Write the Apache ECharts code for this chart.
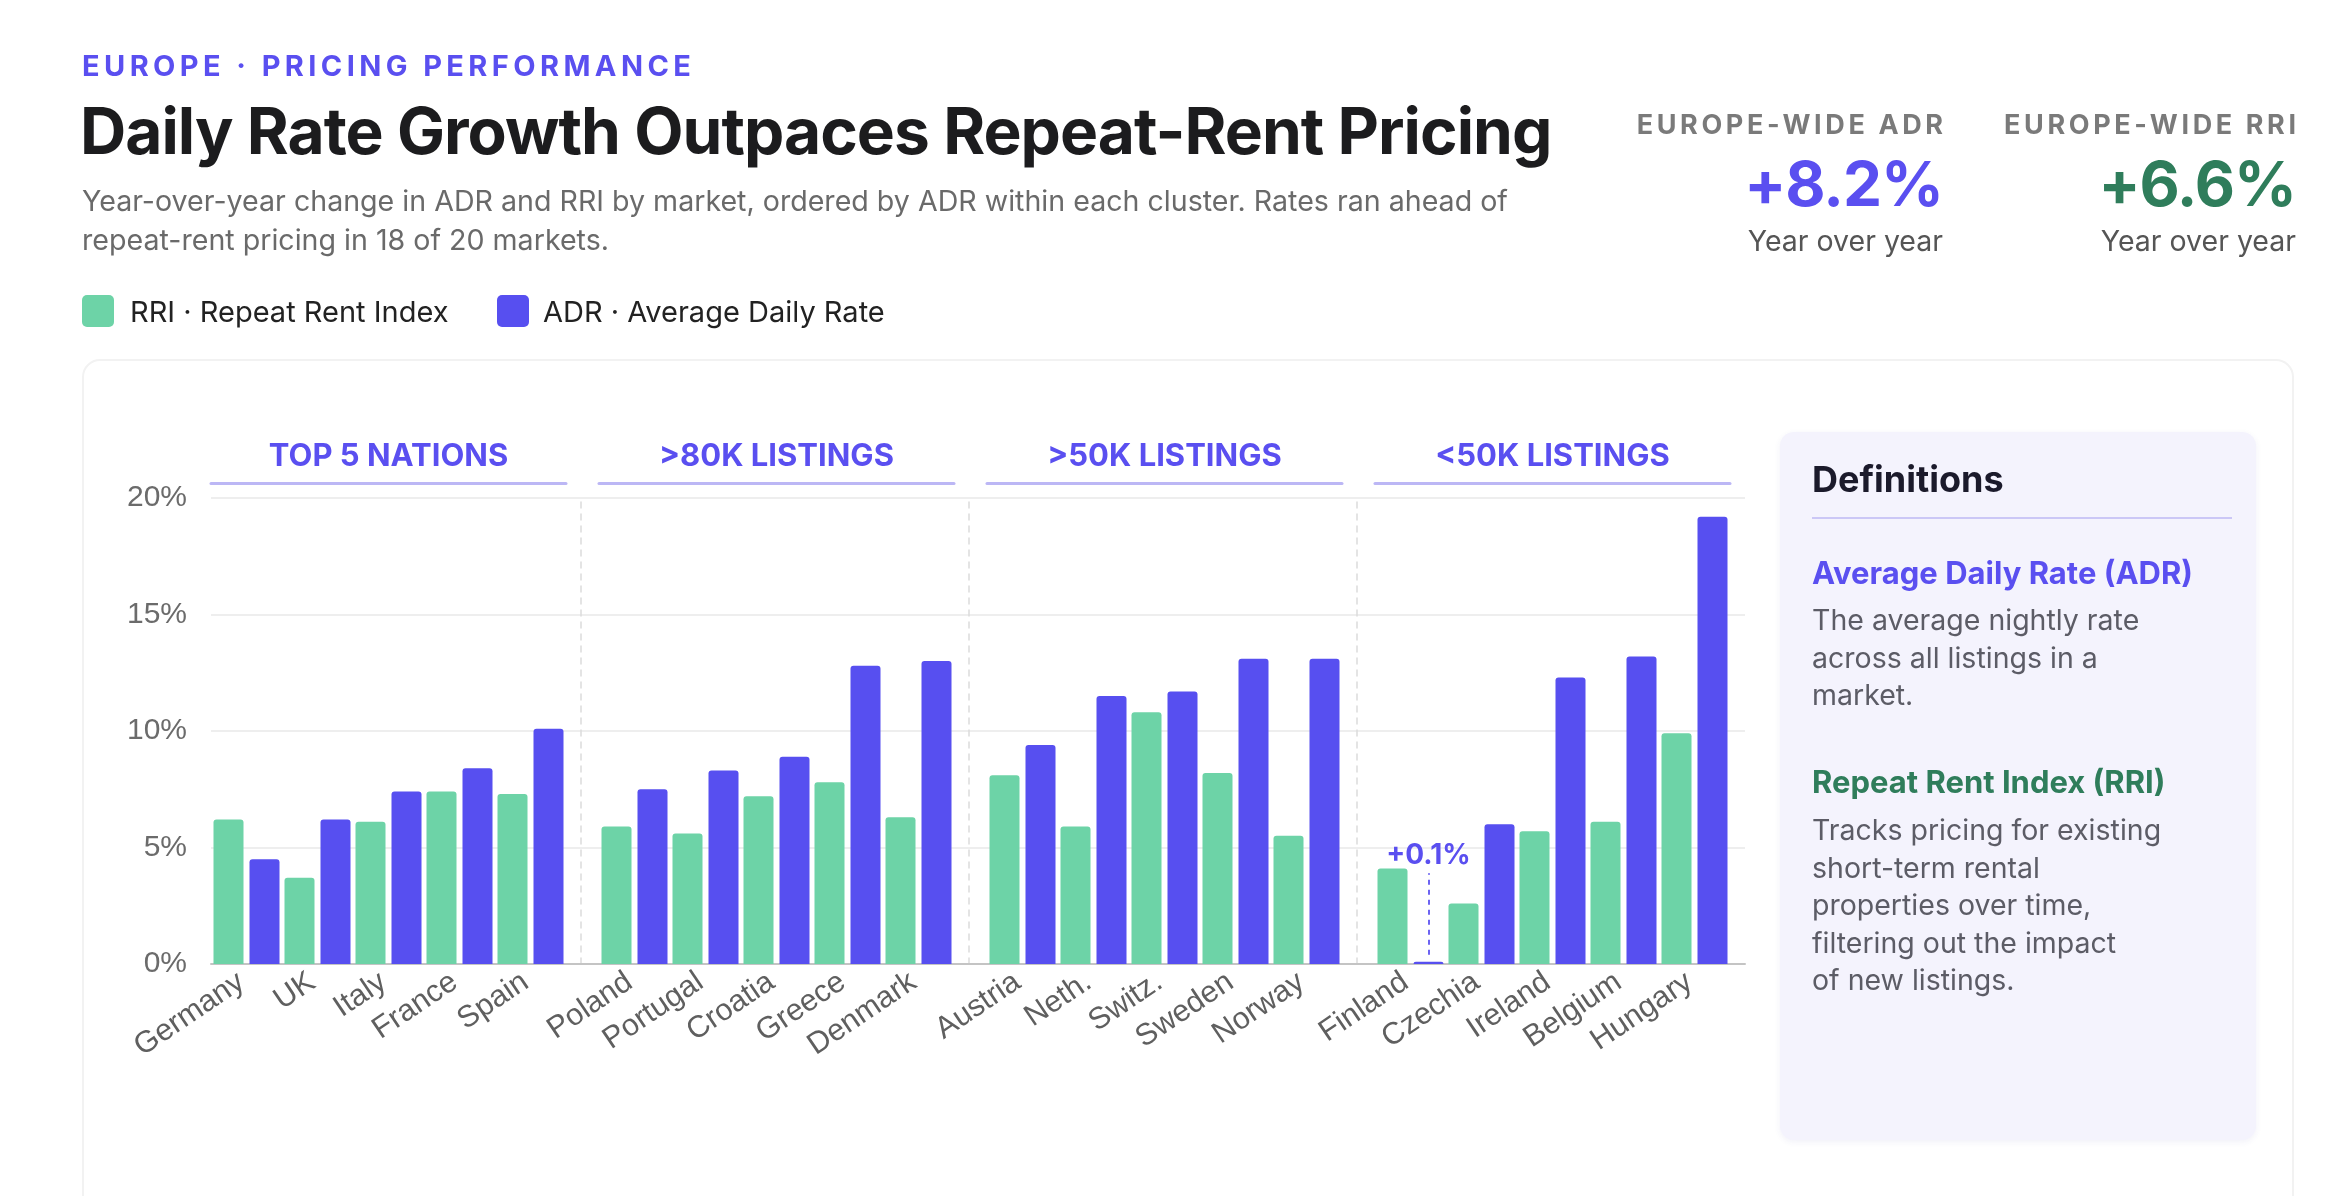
<!DOCTYPE html>
<html>
<head>
<meta charset="utf-8">
<title>Daily Rate Growth Outpaces Repeat-Rent Pricing</title>
<script src="https://cdn.jsdelivr.net/npm/echarts@6/dist/echarts.min.js"></script>
<style>
  html, body { margin: 0; padding: 0; background: #fff; }
  body { width: 2338px; height: 1196px; position: relative; overflow: hidden; font-family: 'Inter', 'Noto Sans', sans-serif; }
  .abs { position: absolute; white-space: nowrap; line-height: 1; }
  #eyebrow { left: 82px; top: 51px; font-size: 29px; font-weight: 700; letter-spacing: 4.4px; color: #5a4ff0; }
  #title { left: 80px; top: 99px; font-size: 64px; font-weight: 700; letter-spacing: -0.95px; color: #1c1c1e; }
  #subtitle { left: 82px; top: 181px; font-size: 28.6px; line-height: 39px; color: #6a6a6a; white-space: normal; width: 1500px; }
  .legend-sq { position: absolute; width: 32px; height: 32px; border-radius: 5px; }
  .legend-tx { font-size: 29px; color: #222; }
  .kpi { position: absolute; text-align: right; }
  .kpi .lab { font-size: 27px; font-weight: 700; letter-spacing: 3.6px; margin-right: -3.6px; color: #7a7a7a; line-height: 1; }
  .kpi .val { font-size: 62px; font-weight: 700; letter-spacing: -1px; line-height: 1; margin-top: 15px; }
  .kpi .yoy { font-size: 28.5px; color: #555; line-height: 1; margin-top: 12px; }
  #card { position: absolute; left: 82px; top: 359px; width: 2212px; height: 900px; border: 2px solid #f2f2f2; border-radius: 18px; box-sizing: border-box; }
  #chart { position: absolute; left: 0; top: 0; width: 2338px; height: 1196px; }
  #defs { position: absolute; left: 1780px; top: 432px; width: 476px; height: 708px; background: #f4f3fd; border-radius: 14px; box-shadow: 0 2px 6px rgba(60, 50, 160, 0.07); }
  #defs .h { position: absolute; left: 32px; top: 29px; font-size: 36px; font-weight: 700; color: #1b1a2b; line-height: 1; }
  #defs .rule { position: absolute; left: 32px; top: 85px; width: 420px; height: 2px; background: #cbc7f6; }
  #defs .t { position: absolute; left: 32px; font-size: 31px; font-weight: 700; line-height: 1; }
  #defs .b { position: absolute; left: 32px; font-size: 28.5px; line-height: 37.5px; color: #5c5c66; }
</style>
</head>
<body>
<div id="card"></div>
<div id="chart"></div>

<div id="eyebrow" class="abs">EUROPE · PRICING PERFORMANCE</div>
<div id="title" class="abs">Daily Rate Growth Outpaces Repeat-Rent Pricing</div>
<div id="subtitle" class="abs">Year-over-year change in ADR and RRI by market, ordered by ADR within each cluster. Rates ran ahead of<br>repeat-rent pricing in 18 of 20 markets.</div>

<div class="legend-sq" style="left:82px; top:295px; background:#6dd3a7;"></div>
<div class="abs legend-tx" style="left:130px; top:297px;">RRI · Repeat Rent Index</div>
<div class="legend-sq" style="left:497px; top:295px; background:#574ff0;"></div>
<div class="abs legend-tx" style="left:543px; top:297px;">ADR · Average Daily Rate</div>

<div class="kpi" style="right:395px; top:111px;">
  <div class="lab">EUROPE-WIDE ADR</div>
  <div class="val" style="color:#5a4ff0;">+8.2%</div>
  <div class="yoy">Year over year</div>
</div>
<div class="kpi" style="right:42px; top:111px;">
  <div class="lab">EUROPE-WIDE RRI</div>
  <div class="val" style="color:#2f7d5b;">+6.6%</div>
  <div class="yoy">Year over year</div>
</div>

<div id="defs">
  <div class="h">Definitions</div>
  <div class="rule"></div>
  <div class="t" style="top:125px; color:#5a4ff0;">Average Daily Rate (ADR)</div>
  <div class="b" style="top:169px;">The average nightly rate<br>across all listings in a<br>market.</div>
  <div class="t" style="top:334px; color:#2f7d5b;">Repeat Rent Index (RRI)</div>
  <div class="b" style="top:379px;">Tracks pricing for existing<br>short-term rental<br>properties over time,<br>filtering out the impact<br>of new listings.</div>
</div>

<script>
// 数据：按集群排列，每个集群内按 ADR 排序
var countries = ['Germany', 'UK', 'Italy', 'France', 'Spain',
                 'Poland', 'Portugal', 'Croatia', 'Greece', 'Denmark',
                 'Austria', 'Neth.', 'Switz.', 'Sweden', 'Norway',
                 'Finland', 'Czechia', 'Ireland', 'Belgium', 'Hungary'];
var clusters = ['TOP 5 NATIONS', '>80K LISTINGS', '>50K LISTINGS', '<50K LISTINGS'];
var rri = [6.2, 3.7, 6.1, 7.4, 7.3,
           5.9, 5.6, 7.2, 7.8, 6.3,
           8.1, 5.9, 10.8, 8.2, 5.5,
           4.1, 2.6, 5.7, 6.1, 9.9];
var adr = [4.5, 6.2, 7.4, 8.4, 10.1,
           7.5, 8.3, 8.9, 12.8, 13.0,
           9.4, 11.5, 11.7, 13.1, 13.1,
           0.1, 6.0, 12.3, 13.2, 19.2];
var yMin = 0, yMax = 20, yStep = 5;
var calloutCountry = 'Finland';

var RRI_COLOR = '#6dd3a7';
var ADR_COLOR = '#574ff0';
var PURPLE = '#5a4ff0';

var chart = echarts.init(document.getElementById('chart'), null, { renderer: 'canvas' });

var GRID_TOP = 498, GRID_H = 466;
var PLOT_LEFT = 211, PLOT_W = 1534;
var CLUSTER_W = 355, CLUSTER_STEP = 388;

var grids = [{ left: PLOT_LEFT, top: GRID_TOP, width: PLOT_W, height: GRID_H }];
var xAxes = [{
    gridIndex: 0, type: 'value', min: 0, max: 1,
    axisLine: { show: true, onZero: false, lineStyle: { color: '#c4c4c4', width: 2 } },
    axisTick: { show: false }, axisLabel: { show: false }, splitLine: { show: false }
}];
var yAxes = [{
    gridIndex: 0, type: 'value', min: yMin, max: yMax, interval: yStep,
    axisLine: { show: false }, axisTick: { show: false },
    axisLabel: { formatter: '{value}%', fontSize: 30, color: '#6b6b6b', margin: 24, fontFamily: 'Liberation Sans' },
    splitLine: { lineStyle: { color: '#eeeeee', width: 2 } }
}];
var series = [];

clusters.forEach(function (name, k) {
    var gi = k + 1;
    var from = k * 5, to = k * 5 + 5;
    var cats = countries.slice(from, to);
    grids.push({ left: PLOT_LEFT + k * CLUSTER_STEP, top: GRID_TOP, width: CLUSTER_W, height: GRID_H });
    // 底部国家标签
    xAxes.push({
        gridIndex: gi, type: 'category', data: cats, position: 'bottom',
        axisLine: { show: false }, axisTick: { show: false },
        axisLabel: { interval: 0, rotate: 34, fontSize: 30.5, color: '#5f5f5f', margin: 12, padding: [0, 6, 0, 0], fontFamily: 'Liberation Sans' }
    });
    // 顶部集群标题 + 下划线
    xAxes.push({
        gridIndex: gi, type: 'category', data: cats, position: 'top', offset: 15,
        axisLine: { show: true, lineStyle: { color: '#bcb7f5', width: 3 } },
        axisTick: { show: false }, axisLabel: { show: false },
        name: name, nameLocation: 'middle', nameGap: 11,
        nameTextStyle: { color: PURPLE, fontSize: 31, fontWeight: 'bold', fontFamily: 'Inter' }
    });
    // 集群之间的虚线分隔
    yAxes.push({
        gridIndex: gi, type: 'value', min: yMin, max: yMax, position: 'left', offset: 18,
        axisLine: { show: k > 0, lineStyle: { color: '#dcdcdc', width: 1.5, type: [6, 6] } },
        axisTick: { show: false }, axisLabel: { show: false }, splitLine: { show: false }
    });

    var bottomAxis = 1 + 2 * k;
    var adrSeries = {
        name: 'ADR', type: 'bar', xAxisIndex: bottomAxis, yAxisIndex: gi,
        barWidth: 30, barGap: '20%',
        itemStyle: { color: ADR_COLOR, borderRadius: [3, 3, 0, 0] },
        data: adr.slice(from, to)
    };
    var ci = cats.indexOf(calloutCountry);
    if (ci >= 0) {
        var v = adr[from + ci];
        adrSeries.markLine = {
            silent: true, symbol: ['none', 'none'], animation: false,
            lineStyle: { color: '#6c63f2', width: 2, type: [5, 5] },
            label: {
                show: true, position: 'end', distance: 4,
                formatter: '+' + v.toFixed(1) + '%',
                color: PURPLE, fontSize: 28, fontWeight: 'bold', fontFamily: 'Inter'
            },
            data: [[{ coord: [calloutCountry, v + 0.3] }, { coord: [calloutCountry, 3.9] }]]
        };
    }
    series.push({
        name: 'RRI', type: 'bar', xAxisIndex: bottomAxis, yAxisIndex: gi,
        barWidth: 30, barGap: '20%',
        itemStyle: { color: RRI_COLOR, borderRadius: [3, 3, 0, 0] },
        data: rri.slice(from, to)
    });
    series.push(adrSeries);
});

chart.setOption({
    animation: false,
    grid: grids,
    xAxis: xAxes,
    yAxis: yAxes,
    series: series
});
</script>
</body>
</html>
